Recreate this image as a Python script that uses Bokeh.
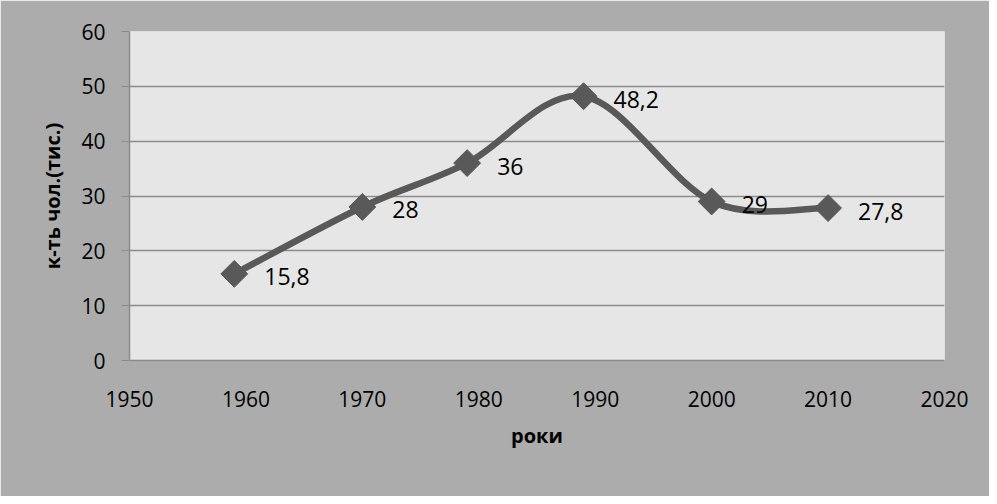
import numpy as np
from bokeh.plotting import figure
from bokeh.models import Range1d, SingleIntervalTicker, ColumnDataSource
from bokeh.core.properties import value
from bokeh.embed import file_html
from bokeh.resources import INLINE

years = [1959, 1970, 1979, 1989, 2000, 2010]
people = [15.8, 28, 36, 48.2, 29, 27.8]
labels = ["15,8", "28", "36", "48,2", "29", "27,8"]
x_title = "роки"
y_title = "к-ть чол.(тис.)"

FONT = "Open Sans"
LINE = "#595959"
AXIS = "#8c8c8c"

p = figure(width=989, height=496, output_backend="svg", toolbar_location=None,
           x_range=Range1d(1950, 2020), y_range=Range1d(0, 60),
           min_border_left=129, min_border_right=45, min_border_top=31, min_border_bottom=136)
p.background_fill_color = "#e6e6e6"
p.border_fill_color = "#acacac"
p.outline_line_color = None

# smoothed line (Excel-like cubic Bezier through the points)
x = np.array(years, dtype=float)
y = np.array(people, dtype=float)
n = len(x)
xp = np.concatenate([[x[0]], x, [x[-1]]])
yp = np.concatenate([[y[0]], y, [y[-1]]])
seg = dict(x0=[], y0=[], x1=[], y1=[], cx0=[], cy0=[], cx1=[], cy1=[])
for i in range(n - 1):
    seg["x0"].append(x[i]); seg["y0"].append(y[i])
    seg["x1"].append(x[i + 1]); seg["y1"].append(y[i + 1])
    seg["cx0"].append(x[i] + (xp[i + 2] - xp[i]) / 6)
    seg["cy0"].append(y[i] + (yp[i + 2] - yp[i]) / 6)
    seg["cx1"].append(x[i + 1] - (xp[i + 3] - xp[i + 1]) / 6)
    seg["cy1"].append(y[i + 1] - (yp[i + 3] - yp[i + 1]) / 6)
p.bezier(source=ColumnDataSource(seg), x0="x0", y0="y0", x1="x1", y1="y1",
         cx0="cx0", cy0="cy0", cx1="cx1", cy1="cy1",
         line_color=LINE, line_width=6.5, line_cap="round")

src = ColumnDataSource(dict(x=years, y=people, t=labels))
p.scatter("x", "y", source=src, marker="square", angle=np.pi / 4, size=19,
          fill_color=LINE, line_color=LINE)
p.text("x", "y", text="t", source=src, x_offset=30, y_offset=3,
       text_baseline="middle", text_align="left",
       text_font=value(FONT), text_font_size="23px", text_color="black")

# grid
p.xgrid.grid_line_color = None
p.ygrid.grid_line_color = AXIS
p.ygrid.grid_line_width = 1.5
p.ygrid.ticker = SingleIntervalTicker(interval=10)

# axes
for ax in (p.xaxis[0], p.yaxis[0]):
    ax.axis_line_color = AXIS
    ax.axis_line_width = 1.5
    ax.major_tick_line_color = AXIS
    ax.minor_tick_line_color = None
    ax.major_tick_in = 0
    ax.major_label_text_font = FONT
    ax.major_label_text_font_size = "21px"
    ax.major_label_text_color = "black"
    ax.axis_label_text_font = FONT
    ax.axis_label_text_font_size = "20px"
    ax.axis_label_text_font_style = "bold"
    ax.axis_label_text_color = "black"

p.xaxis.ticker = SingleIntervalTicker(interval=10)
p.xaxis.major_tick_out = 0
p.xaxis.major_label_standoff = 26
p.xaxis.axis_label = x_title
p.xaxis.axis_label_standoff = 12

p.yaxis.ticker = SingleIntervalTicker(interval=10)
p.yaxis.major_tick_out = 8
p.yaxis.major_label_standoff = 16
p.yaxis.axis_label = y_title
p.yaxis.axis_label_standoff = 12

open("out.html", "w").write(file_html(p, INLINE))
